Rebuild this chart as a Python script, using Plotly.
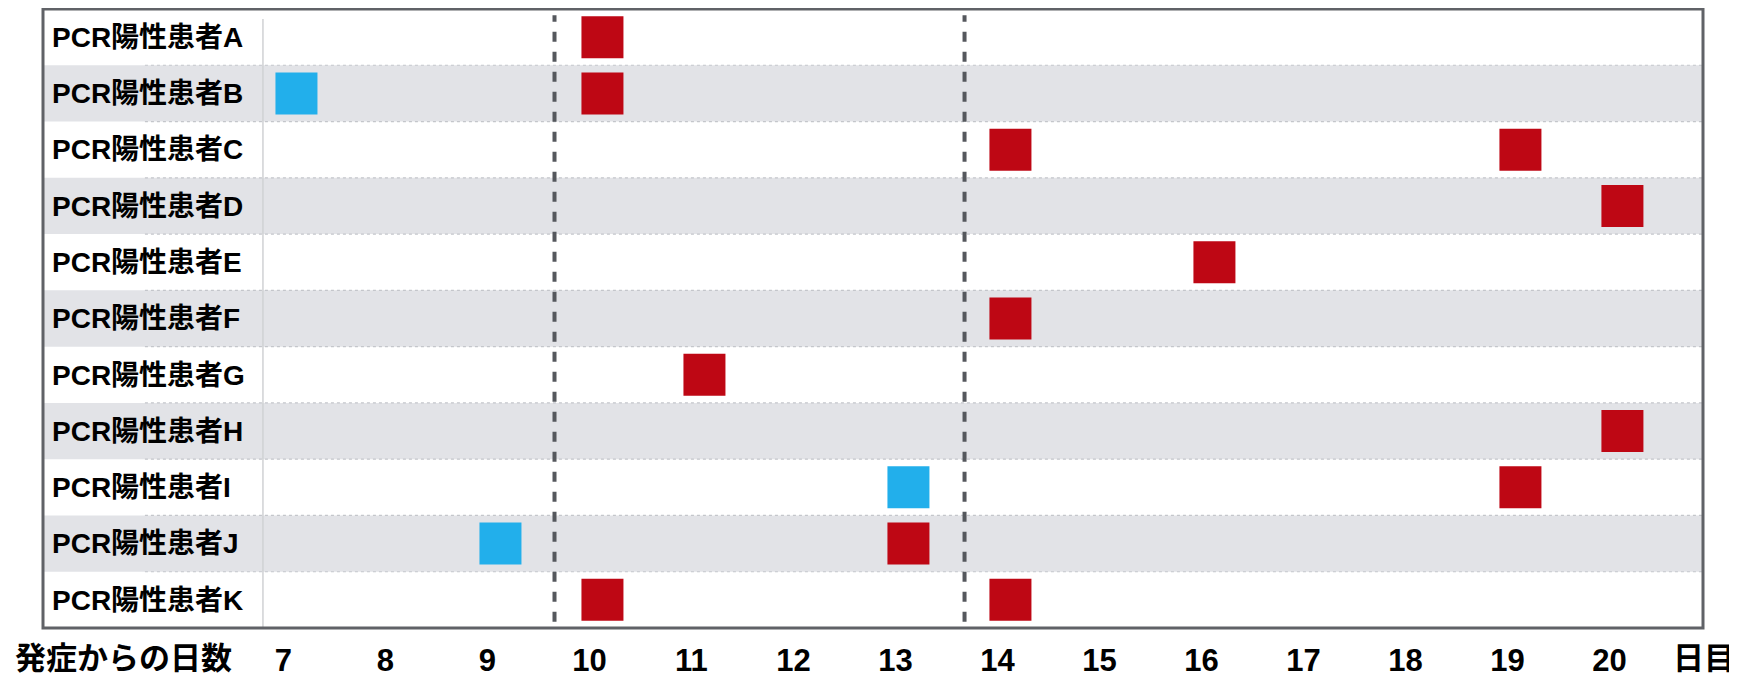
import plotly.graph_objects as go

patients = ["PCR陽性患者A", "PCR陽性患者B", "PCR陽性患者C", "PCR陽性患者D", "PCR陽性患者E",
            "PCR陽性患者F", "PCR陽性患者G", "PCR陽性患者H", "PCR陽性患者I", "PCR陽性患者J",
            "PCR陽性患者K"]

# red squares
red_patients = ["PCR陽性患者A", "PCR陽性患者B", "PCR陽性患者C", "PCR陽性患者C", "PCR陽性患者D",
                "PCR陽性患者E", "PCR陽性患者F", "PCR陽性患者G", "PCR陽性患者H", "PCR陽性患者I",
                "PCR陽性患者J", "PCR陽性患者K", "PCR陽性患者K"]
red_days = [10, 10, 14, 19, 20, 16, 14, 11, 20, 19, 13, 10, 14]

# blue squares
blue_patients = ["PCR陽性患者B", "PCR陽性患者I", "PCR陽性患者J"]
blue_days = [7, 13, 9]

tick_days = [7, 8, 9, 10, 11, 12, 13, 14, 15, 16, 17, 18, 19, 20]
tick_labels = [str(d) for d in tick_days]

cutoff_lines = [9.53, 13.55]

FONT = "Liberation Sans, Arial, Noto Sans CJK JP, sans-serif"
RED = "#BE0714"
BLUE = "#22AFEB"
GRAY_ROW = "#E2E3E7"

fig = go.Figure()
fig.add_trace(go.Scatter(x=red_days, y=red_patients, mode="markers", name="赤",
                         marker=dict(symbol="square", size=42, color=RED, line=dict(width=0)),
                         cliponaxis=False, showlegend=False))
fig.add_trace(go.Scatter(x=blue_days, y=blue_patients, mode="markers", name="青",
                         marker=dict(symbol="square", size=42, color=BLUE, line=dict(width=0)),
                         cliponaxis=False, showlegend=False))

shapes = []
# alternating row shading
for i, p in enumerate(patients):
    if i % 2 == 1:
        shapes.append(dict(type="rect", xref="paper", yref="y", x0=0, x1=1,
                           y0=i - 0.5, y1=i + 0.5, fillcolor=GRAY_ROW,
                           line=dict(width=0), layer="below"))
# dotted row separators
for i in range(len(patients) - 1):
    shapes.append(dict(type="line", xref="paper", yref="y", x0=0.0614, x1=1,
                       y0=i + 0.5, y1=i + 0.5,
                       line=dict(color="#C4C6CB", width=1.2, dash="dot"), layer="below"))
# label column divider
shapes.append(dict(type="line", xref="paper", yref="paper", x0=0.1325, x1=0.1325,
                   y0=0, y1=0.984, line=dict(color="#D0D1D4", width=1.5), layer="below"))
# dashed vertical lines
for xv in cutoff_lines:
    shapes.append(dict(type="line", xref="x", yref="paper", x0=xv, x1=xv,
                       y0=0.01, y1=0.99,
                       line=dict(color="#55585D", width=4, dash="10px,10px"), layer="below"))
# frame
shapes.append(dict(type="rect", xref="paper", yref="paper", x0=0, x1=1, y0=0, y1=1,
                   line=dict(color="#606267", width=3), fillcolor="rgba(0,0,0,0)", layer="above"))

fig.update_layout(
    width=1729, height=672,
    margin=dict(l=35, r=34, t=1, b=52),
    paper_bgcolor="white", plot_bgcolor="white",
    shapes=shapes,
    font=dict(family=FONT, color="black"),
    xaxis=dict(range=[4.515, 20.79], tickvals=tick_days, ticktext=tick_labels,
               showgrid=False, zeroline=False, showline=False, ticks="",
               automargin=False,
               tickfont=dict(family=FONT, size=31, color="black", weight="bold"),
               ticklabelshift=-13, ticklabelstandoff=11, fixedrange=True),
    yaxis=dict(type="category", categoryarray=patients, range=[10.5, -0.5],
               showgrid=False, zeroline=False, showline=False, ticks="",
               automargin=False,
               ticklabelposition="inside", ticklabelstandoff=6,
               tickfont=dict(family=FONT, size=28, color="black", weight="bold"),
               fixedrange=True),
    annotations=[
        dict(text="発症からの日数", xref="paper", yref="paper", x=-0.018, y=-0.018,
             xanchor="left", yanchor="top", showarrow=False,
             font=dict(family=FONT, size=31, color="black", weight="bold")),
        dict(text="日目", xref="paper", yref="paper", x=0.981, y=-0.018,
             xanchor="left", yanchor="top", showarrow=False,
             font=dict(family=FONT, size=31, color="black", weight="bold")),
    ],
)

fig.write_html("out.html")
